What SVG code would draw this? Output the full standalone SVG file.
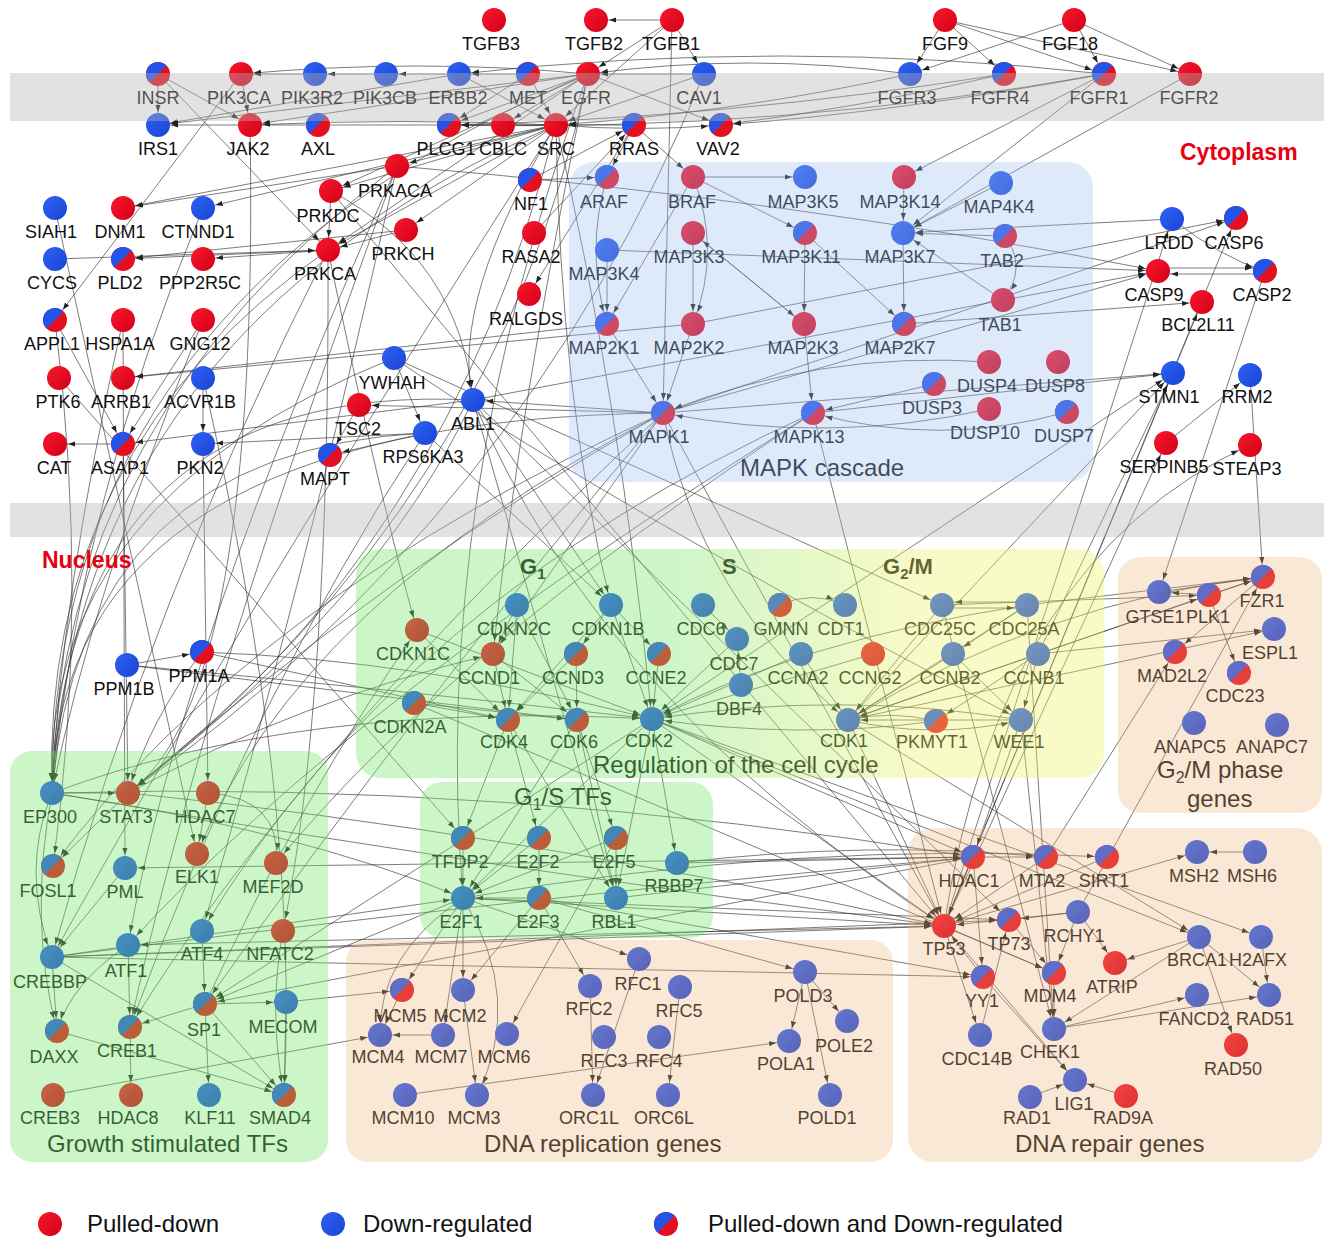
<svg xmlns="http://www.w3.org/2000/svg" xmlns:xlink="http://www.w3.org/1999/xlink" width="1324" height="1237" viewBox="0 0 1324 1237">
<style>
.e path{fill:none;stroke:#333;stroke-width:.8;stroke-opacity:.8;marker-end:url(#a)}
.n text{font-family:"Liberation Sans",Arial,sans-serif;font-size:18px;fill:#111;text-anchor:middle}
.t{font-family:"Liberation Sans",Arial,sans-serif;font-size:24px;fill:#111}
.ph{font-family:"Liberation Sans",Arial,sans-serif;font-size:22px;font-weight:bold;fill:#111}
.loc{font-family:"Liberation Sans",Arial,sans-serif;font-size:23px;font-weight:bold;fill:#e8000f}
.lg{font-family:"Liberation Sans",Arial,sans-serif;font-size:24px;fill:#111}
</style>
<defs>
<marker id="a" viewBox="0 0 22 6" refX="20" refY="3" markerWidth="22" markerHeight="6" markerUnits="userSpaceOnUse" orient="auto"><path d="M0,0.4 L7,3 L0,5.6z" fill="#222"/></marker>
<linearGradient id="gr" x1="0" y1="0" x2="1" y2="1"><stop offset="0" stop-color="#f8182c"/><stop offset="1" stop-color="#d20018"/></linearGradient>
<linearGradient id="gb" x1="0" y1="0" x2="1" y2="1"><stop offset="0" stop-color="#2d62f4"/><stop offset="1" stop-color="#1a44d4"/></linearGradient>
<linearGradient id="gcc" x1="0" y1="0" x2="1" y2="0"><stop offset="0" stop-color="#75e46a"/><stop offset="0.4" stop-color="#75e46a"/><stop offset="0.75" stop-color="#ecf26a"/><stop offset="1" stop-color="#ecf26a"/></linearGradient>
<circle id="R" r="12" fill="url(#gr)"/>
<circle id="B" r="12" fill="url(#gb)"/>
<g id="S"><circle r="12" fill="#e3101f"/><path d="M8.49 -8.49A12 12 0 0 0 -8.49 8.49Z" fill="#2453e8"/></g>
</defs>
<rect width="1324" height="1237" fill="#fff"/>
<g id="connectors" class="e">
<path d="M672 20L596 20"/><path d="M672 20L588 74"/><path d="M672 20L704 74"/><path d="M672 20L556 125"/><path d="M672 20L663 413"/>
<path d="M945 20L910 74"/><path d="M945 20L1004 74"/><path d="M945 20L1104 74"/><path d="M945 20L1190 74"/>
<path d="M1074 20L910 74"/><path d="M1074 20L1104 74"/><path d="M1074 20L1190 74"/>
<path d="M1104 74L904 177"/><path d="M1104 74L903 233"/><path d="M1190 74L903 233"/>
<path d="M910 74Q740 112 556 125"/><path d="M1004 74Q730 118 449 125"/><path d="M1104 74Q780 132 449 125"/><path d="M1104 74Q780 38 459 74"/><path d="M910 74Q750 52 588 74"/><path d="M1004 74Q860 108 721 125"/><path d="M1104 74Q900 112 721 125"/>
<path d="M158 74L158 125"/><path d="M158 74L250 125"/><path d="M158 74L328 250"/><path d="M315 74L241 74"/><path d="M386 74L315 74"/><path d="M459 74L386 74"/><path d="M528 74L459 74"/><path d="M588 74Q420 58 241 74"/>
<path d="M556 125L158 125"/><path d="M556 125Q400 118 250 125"/><path d="M588 74L250 125"/><path d="M588 74L158 125"/><path d="M459 74L158 125"/><path d="M528 74L449 125"/><path d="M588 74L449 125"/><path d="M556 125L449 125"/><path d="M588 74L503 125"/><path d="M704 74L556 125"/><path d="M704 74L588 74"/><path d="M528 74L556 125"/><path d="M634 125L556 125"/><path d="M556 125Q640 132 721 125"/><path d="M588 74L721 125"/><path d="M459 74L556 125"/><path d="M241 74L250 125"/><path d="M241 74L55 320"/>
<path d="M556 125L397 166"/><path d="M556 125L331 191"/><path d="M556 125L406 230"/><path d="M556 125L328 250"/><path d="M588 74L328 250"/><path d="M588 74L331 191"/><path d="M556 125L123 208"/><path d="M556 125L203 208"/><path d="M397 166L123 208"/><path d="M328 250L123 259"/><path d="M406 230L123 259"/><path d="M328 250L203 259"/><path d="M55 259L328 250"/><path d="M406 230L328 250"/><path d="M331 191L328 250"/>
<path d="M55 208L197 854"/><path d="M59 378L463 838"/><path d="M203 320L123 444"/><path d="M203 378L203 444"/><path d="M473 400L123 444"/><path d="M123 444L55 444"/><path d="M425 433L203 444"/><path d="M394 358L425 433"/><path d="M359 405L330 455"/><path d="M425 433L330 455"/><path d="M663 413L359 405"/>
<path d="M331 191Q460 260 473 400"/><path d="M556 125Q450 300 473 400"/><path d="M663 413L473 400"/>
<path d="M530 180L634 125"/><path d="M534 233L634 125"/><path d="M634 125L529 294"/><path d="M634 125L607 177"/><path d="M634 125L693 177"/><path d="M530 180L607 177"/><path d="M607 324L123 378"/><path d="M693 324L123 378"/><path d="M55 320L123 444"/>
<path d="M693 177L805 177"/><path d="M693 177L805 233"/><path d="M804 324L693 233"/><path d="M607 250L607 324"/><path d="M607 177Q585 250 607 324"/><path d="M693 177L607 324"/><path d="M693 233L693 324"/><path d="M693 177Q722 250 693 324"/><path d="M805 233L804 324"/><path d="M904 177L903 233"/><path d="M903 233L904 324"/><path d="M1001 183L903 233"/><path d="M1005 236L903 233"/><path d="M1172 219L903 233"/><path d="M1003 300L903 233"/><path d="M1005 236Q1028 268 1003 300"/><path d="M693 233L804 324"/><path d="M805 233L904 324"/>
<path d="M607 324L663 413"/><path d="M693 324L663 413"/><path d="M804 324L813 413"/><path d="M989 362Q820 350 663 413"/><path d="M989 409Q830 445 663 413"/><path d="M1067 412Q940 448 813 413"/><path d="M934 384L813 413"/>
<path d="M663 413L1158 271"/><path d="M473 400L1158 271"/><path d="M607 250L1158 271"/><path d="M397 166Q800 200 1158 271"/><path d="M1158 268L1265 268"/><path d="M1265 274L1158 274"/><path d="M1172 219Q1222 258 1265 271"/><path d="M663 413L1236 218"/><path d="M693 324L1236 218"/><path d="M904 324L1202 302"/>
<path d="M944 926L1202 302"/><path d="M944 926L1236 218"/><path d="M944 926L1172 219"/><path d="M1265 271L1159 592"/>
<path d="M652 719L1173 373"/><path d="M848 720L1173 373"/><path d="M663 413L1173 373"/><path d="M813 413L1173 373"/><path d="M1038 654L1173 373"/><path d="M1166 443L1250 375"/><path d="M1250 375L1263 577"/><path d="M944 926L1166 443"/><path d="M944 926Q1000 560 1250 445"/>
<path d="M663 413Q60 420 52 793"/><path d="M473 400Q70 380 52 793"/><path d="M328 250Q40 450 52 793"/><path d="M556 125Q80 330 52 793"/><path d="M397 166Q60 420 52 793"/><path d="M425 433Q80 450 52 793"/><path d="M588 74Q50 300 52 793"/><path d="M394 358Q40 500 52 793"/>
<path d="M203 208Q80 500 52 793"/><path d="M123 320Q60 600 52 793"/><path d="M203 320Q90 600 52 793"/>
<path d="M250 125Q260 700 128 793"/><path d="M556 125Q450 550 128 793"/><path d="M588 74Q500 500 128 793"/><path d="M663 413Q400 560 128 793"/><path d="M473 400Q380 600 128 793"/><path d="M704 74Q520 520 128 793"/><path d="M202 652Q150 720 128 793"/><path d="M127 665L202 652"/>
<path d="M663 413Q300 600 197 854"/><path d="M813 413Q400 600 202 931"/><path d="M397 166Q300 600 202 931"/>
<path d="M397 166Q200 700 130 1027"/><path d="M397 166Q180 650 128 945"/><path d="M425 433Q250 700 130 1027"/><path d="M663 413Q300 750 130 1027"/><path d="M813 413Q350 700 128 945"/><path d="M328 250Q150 600 52 957"/><path d="M556 125Q250 600 52 957"/><path d="M663 413Q250 600 53 866"/>
<path d="M463 898L205 1004"/><path d="M652 719L205 1004"/><path d="M973 857L205 1004"/><path d="M663 413Q420 700 205 1004"/>
<path d="M813 413Q450 650 276 863"/><path d="M328 250Q330 700 283 931"/><path d="M203 444L208 793"/><path d="M123 444L128 793"/><path d="M203 378Q300 800 284 1095"/><path d="M55 320Q90 600 53 866"/><path d="M123 320L125 868"/>
<path d="M473 400L611 605"/><path d="M473 400L1009 920"/><path d="M663 413L944 926"/><path d="M813 413L944 926"/><path d="M331 191L944 926"/><path d="M394 358L942 605"/><path d="M556 125Q560 400 611 605"/><path d="M588 74Q520 400 493 654"/><path d="M663 413L493 654"/><path d="M328 250Q380 500 417 630"/>
<path d="M588 74Q430 500 463 898"/><path d="M473 400Q600 700 944 926"/><path d="M394 358Q600 500 1021 720"/><path d="M556 125Q620 400 652 719"/><path d="M473 400L616 898"/><path d="M663 413Q700 600 848 720"/><path d="M425 433L611 605"/>
<path d="M127 665Q400 690 652 719"/><path d="M202 652Q420 660 652 719"/><path d="M202 652L508 720"/><path d="M127 665L577 720"/>
<path d="M52 793Q300 700 652 719"/><path d="M128 793Q300 700 493 654"/><path d="M205 1004Q300 800 417 630"/>
<path d="M52 793L128 793"/><path d="M128 793L53 866"/><path d="M208 793L197 854"/><path d="M208 793Q282 798 276 863"/><path d="M973 857L125 868"/><path d="M125 868L52 957"/><path d="M944 926L128 945"/>
<path d="M52 957L944 926"/><path d="M52 957L1009 920"/><path d="M52 957L983 977"/><path d="M52 957Q500 900 973 857"/><path d="M52 957L463 898"/><path d="M52 957L284 1095"/><path d="M52 957L57 1031"/><path d="M128 945Q72 982 57 1031"/><path d="M128 945L130 1027"/><path d="M130 1027L131 1095"/><path d="M57 1031L284 1095"/><path d="M205 1004L130 1027"/><path d="M205 1004L209 1095"/><path d="M205 1004L284 1095"/><path d="M283 931Q268 1010 284 1095"/><path d="M286 1002L284 1095"/><path d="M205 1004L286 1002"/><path d="M53 1095L380 1035"/>
<path d="M52 793Q20 870 52 957"/><path d="M52 793Q28 920 57 1031"/><path d="M52 793Q500 780 973 857"/><path d="M52 793Q500 870 944 926"/><path d="M52 793Q300 830 463 898"/><path d="M128 793Q500 830 944 926"/><path d="M202 931L205 1004"/><path d="M286 1002L402 990"/>
<path d="M517 605L508 720"/><path d="M517 605L577 720"/><path d="M611 605L652 719"/><path d="M611 605L508 720"/><path d="M611 605L576 654"/><path d="M517 605L493 654"/><path d="M611 605L659 654"/><path d="M493 654L508 720"/><path d="M493 654L577 720"/><path d="M576 654L577 720"/><path d="M576 654L508 720"/><path d="M659 654L652 719"/><path d="M801 654L652 719"/><path d="M801 654L848 720"/><path d="M1038 654L848 720"/><path d="M953 654L848 720"/><path d="M942 605L848 720"/><path d="M1027 605Q800 640 652 719"/><path d="M1027 605L848 720"/><path d="M1021 720L848 720"/><path d="M936 721Q890 710 848 720"/><path d="M1038 654L936 721"/><path d="M953 654L1021 720"/><path d="M1038 654L1021 720"/><path d="M848 720Q935 740 1021 720"/><path d="M1027 605L953 654"/><path d="M1027 602L942 602"/><path d="M942 608L1027 608"/><path d="M780 605Q812 590 845 605"/><path d="M741 685L737 639"/><path d="M703 605L737 639"/><path d="M737 639L652 719"/><path d="M1021 720Q840 690 652 719"/><path d="M936 721Q800 740 652 719"/><path d="M417 630L652 719"/><path d="M414 703L508 720"/><path d="M414 703L577 720"/><path d="M417 630L508 720"/><path d="M873 654L652 719"/>
<path d="M652 719L463 898"/><path d="M652 719L616 898"/><path d="M508 720L616 898"/><path d="M577 720L616 898"/><path d="M508 720L539 838"/><path d="M577 720L616 838"/><path d="M652 719L677 863"/><path d="M508 720L463 838"/><path d="M577 720L463 898"/><path d="M463 838L463 898"/><path d="M539 838L463 898"/><path d="M616 838L463 898"/><path d="M539 898L463 898"/><path d="M539 838L539 898"/><path d="M616 838L616 898"/>
<path d="M848 720Q1050 600 1263 577"/><path d="M1038 654L1263 577"/><path d="M1027 605L1263 577"/><path d="M942 605L1209 595"/><path d="M848 720L1209 595"/><path d="M1209 595L1159 592"/><path d="M1159 592L1263 577"/><path d="M1209 595L1263 577"/><path d="M1038 654L1274 629"/><path d="M848 720L1274 629"/><path d="M1078 912L1263 577"/><path d="M1046 857L1175 652"/><path d="M1263 577L1175 652"/><path d="M1209 595L1239 673"/>
<path d="M463 898L402 990"/><path d="M463 898L463 990"/><path d="M463 898Q378 955 380 1035"/><path d="M463 898L443 1035"/><path d="M616 838L507 1034"/><path d="M463 898Q525 1000 477 1095"/><path d="M539 898L463 990"/><path d="M463 898L639 959"/><path d="M639 959L593 1095"/><path d="M590 986L593 1095"/><path d="M680 987L668 1095"/><path d="M805 972L789 1041"/><path d="M805 972L847 1021"/><path d="M805 972L830 1095"/><path d="M539 898L805 972"/><path d="M402 990L380 1035"/><path d="M443 1035L380 1035"/><path d="M463 990L477 1095"/><path d="M405 1095L789 1041"/><path d="M539 898L590 986"/>
<path d="M1255 852L1197 852"/><path d="M1030 1097L1075 1080"/><path d="M1126 1096L1075 1080"/><path d="M983 977L1075 1080"/><path d="M944 926L1075 1080"/><path d="M1054 1029L1197 995"/><path d="M1054 1029L1269 995"/><path d="M1054 973L1054 1029"/><path d="M1199 937L1054 1029"/><path d="M1078 912L1054 973"/><path d="M1199 937L1115 963"/><path d="M1199 937L1236 1045"/><path d="M1199 937L1269 995"/><path d="M1261 937L1269 995"/>
<path d="M973 857L944 926"/><path d="M1107 857L944 926"/><path d="M1046 857L944 926"/><path d="M944 926L1054 973"/><path d="M983 977L944 926"/><path d="M1078 912L944 926"/><path d="M1078 912L1009 920"/><path d="M1078 912L1115 963"/><path d="M944 926L980 1035"/><path d="M980 1035L1009 920"/><path d="M973 857L983 977"/><path d="M973 857L1046 857"/><path d="M652 719L973 857"/><path d="M1021 720L973 857"/><path d="M463 898Q800 840 1107 857"/><path d="M463 898L944 926"/><path d="M463 898L1009 920"/><path d="M616 898L973 857"/><path d="M677 863L973 857"/><path d="M677 863Q870 840 1046 857"/><path d="M848 720L1199 937"/><path d="M652 719L1199 937"/><path d="M652 719L944 926"/><path d="M848 720L944 926"/><path d="M942 605L1054 1029"/><path d="M1027 605L1054 1029"/><path d="M1021 720L1054 1029"/><path d="M414 703L1054 973"/><path d="M944 926L1197 852"/><path d="M652 719L1261 937"/><path d="M1009 920L1054 973"/><path d="M539 898L983 977"/>
</g>
<g class="n">
<g id="n-TGFB3"><use href="#R" x="494" y="20"/><text x="491" y="50">TGFB3</text></g>
<g id="n-TGFB2"><use href="#R" x="596" y="20"/><text x="594" y="50">TGFB2</text></g>
<g id="n-TGFB1"><use href="#R" x="672" y="20"/><text x="671" y="50">TGFB1</text></g>
<g id="n-FGF9"><use href="#R" x="945" y="20"/><text x="945" y="50">FGF9</text></g>
<g id="n-FGF18"><use href="#R" x="1074" y="20"/><text x="1070" y="50">FGF18</text></g>
<g id="n-INSR"><use href="#S" x="158" y="74"/><text x="158" y="104">INSR</text></g>
<g id="n-PIK3CA"><use href="#R" x="241" y="74"/><text x="239" y="104">PIK3CA</text></g>
<g id="n-PIK3R2"><use href="#B" x="315" y="74"/><text x="312" y="104">PIK3R2</text></g>
<g id="n-PIK3CB"><use href="#B" x="386" y="74"/><text x="385" y="104">PIK3CB</text></g>
<g id="n-ERBB2"><use href="#B" x="459" y="74"/><text x="458" y="104">ERBB2</text></g>
<g id="n-MET"><use href="#S" x="528" y="74"/><text x="528" y="104">MET</text></g>
<g id="n-EGFR"><use href="#R" x="588" y="74"/><text x="586" y="104">EGFR</text></g>
<g id="n-CAV1"><use href="#B" x="704" y="74"/><text x="699" y="104">CAV1</text></g>
<g id="n-FGFR3"><use href="#B" x="910" y="74"/><text x="907" y="104">FGFR3</text></g>
<g id="n-FGFR4"><use href="#S" x="1004" y="74"/><text x="1000" y="104">FGFR4</text></g>
<g id="n-FGFR1"><use href="#S" x="1104" y="74"/><text x="1099" y="104">FGFR1</text></g>
<g id="n-FGFR2"><use href="#R" x="1190" y="74"/><text x="1189" y="104">FGFR2</text></g>
<g id="n-IRS1"><use href="#B" x="158" y="125"/><text x="158" y="155">IRS1</text></g>
<g id="n-JAK2"><use href="#R" x="250" y="125"/><text x="248" y="155">JAK2</text></g>
<g id="n-AXL"><use href="#S" x="318" y="125"/><text x="318" y="155">AXL</text></g>
<g id="n-PLCG1"><use href="#S" x="449" y="125"/><text x="446" y="155">PLCG1</text></g>
<g id="n-CBLC"><use href="#R" x="503" y="125"/><text x="503" y="155">CBLC</text></g>
<g id="n-SRC"><use href="#R" x="556" y="125"/><text x="556" y="155">SRC</text></g>
<g id="n-RRAS"><use href="#S" x="634" y="125"/><text x="634" y="155">RRAS</text></g>
<g id="n-VAV2"><use href="#S" x="721" y="125"/><text x="718" y="155">VAV2</text></g>
<g id="n-PRKACA"><use href="#R" x="397" y="166"/><text x="395" y="197">PRKACA</text></g>
<g id="n-PRKDC"><use href="#R" x="331" y="191"/><text x="328" y="222">PRKDC</text></g>
<g id="n-PRKCH"><use href="#R" x="406" y="230"/><text x="403" y="260">PRKCH</text></g>
<g id="n-PRKCA"><use href="#R" x="328" y="250"/><text x="325" y="280">PRKCA</text></g>
<g id="n-NF1"><use href="#S" x="530" y="180"/><text x="531" y="210">NF1</text></g>
<g id="n-RASA2"><use href="#R" x="534" y="233"/><text x="531" y="263">RASA2</text></g>
<g id="n-RALGDS"><use href="#R" x="529" y="294"/><text x="526" y="325">RALGDS</text></g>
<g id="n-SIAH1"><use href="#B" x="55" y="208"/><text x="51" y="238">SIAH1</text></g>
<g id="n-DNM1"><use href="#R" x="123" y="208"/><text x="120" y="238">DNM1</text></g>
<g id="n-CTNND1"><use href="#B" x="203" y="208"/><text x="198" y="238">CTNND1</text></g>
<g id="n-CYCS"><use href="#B" x="55" y="259"/><text x="52" y="289">CYCS</text></g>
<g id="n-PLD2"><use href="#S" x="123" y="259"/><text x="120" y="289">PLD2</text></g>
<g id="n-PPP2R5C"><use href="#R" x="203" y="259"/><text x="200" y="289">PPP2R5C</text></g>
<g id="n-APPL1"><use href="#S" x="55" y="320"/><text x="52" y="350">APPL1</text></g>
<g id="n-HSPA1A"><use href="#R" x="123" y="320"/><text x="120" y="350">HSPA1A</text></g>
<g id="n-GNG12"><use href="#R" x="203" y="320"/><text x="200" y="350">GNG12</text></g>
<g id="n-PTK6"><use href="#R" x="59" y="378"/><text x="58" y="408">PTK6</text></g>
<g id="n-ARRB1"><use href="#R" x="123" y="378"/><text x="121" y="408">ARRB1</text></g>
<g id="n-ACVR1B"><use href="#B" x="203" y="378"/><text x="200" y="408">ACVR1B</text></g>
<g id="n-CAT"><use href="#R" x="55" y="444"/><text x="54" y="474">CAT</text></g>
<g id="n-ASAP1"><use href="#S" x="123" y="444"/><text x="120" y="474">ASAP1</text></g>
<g id="n-PKN2"><use href="#B" x="203" y="444"/><text x="200" y="474">PKN2</text></g>
<g id="n-YWHAH"><use href="#B" x="394" y="358"/><text x="392" y="389">YWHAH</text></g>
<g id="n-TSC2"><use href="#R" x="359" y="405"/><text x="358" y="435">TSC2</text></g>
<g id="n-ABL1"><use href="#B" x="473" y="400"/><text x="473" y="430">ABL1</text></g>
<g id="n-RPS6KA3"><use href="#B" x="425" y="433"/><text x="423" y="463">RPS6KA3</text></g>
<g id="n-MAPT"><use href="#S" x="330" y="455"/><text x="325" y="485">MAPT</text></g>
<g id="n-ARAF"><use href="#S" x="607" y="177"/><text x="604" y="208">ARAF</text></g>
<g id="n-BRAF"><use href="#R" x="693" y="177"/><text x="692" y="208">BRAF</text></g>
<g id="n-MAP3K5"><use href="#B" x="805" y="177"/><text x="803" y="208">MAP3K5</text></g>
<g id="n-MAP3K14"><use href="#R" x="904" y="177"/><text x="900" y="208">MAP3K14</text></g>
<g id="n-MAP4K4"><use href="#B" x="1001" y="183"/><text x="999" y="213">MAP4K4</text></g>
<g id="n-MAP3K4"><use href="#B" x="607" y="250"/><text x="604" y="280">MAP3K4</text></g>
<g id="n-MAP3K3"><use href="#R" x="693" y="233"/><text x="689" y="263">MAP3K3</text></g>
<g id="n-MAP3K11"><use href="#S" x="805" y="233"/><text x="801" y="263">MAP3K11</text></g>
<g id="n-MAP3K7"><use href="#B" x="903" y="233"/><text x="900" y="263">MAP3K7</text></g>
<g id="n-TAB2"><use href="#S" x="1005" y="236"/><text x="1002" y="267">TAB2</text></g>
<g id="n-TAB1"><use href="#R" x="1003" y="300"/><text x="1000" y="331">TAB1</text></g>
<g id="n-MAP2K1"><use href="#S" x="607" y="324"/><text x="604" y="354">MAP2K1</text></g>
<g id="n-MAP2K2"><use href="#R" x="693" y="324"/><text x="689" y="354">MAP2K2</text></g>
<g id="n-MAP2K3"><use href="#R" x="804" y="324"/><text x="803" y="354">MAP2K3</text></g>
<g id="n-MAP2K7"><use href="#S" x="904" y="324"/><text x="900" y="354">MAP2K7</text></g>
<g id="n-DUSP4"><use href="#R" x="989" y="362"/><text x="987" y="392">DUSP4</text></g>
<g id="n-DUSP8"><use href="#R" x="1058" y="362"/><text x="1055" y="392">DUSP8</text></g>
<g id="n-DUSP3"><use href="#S" x="934" y="384"/><text x="932" y="414">DUSP3</text></g>
<g id="n-DUSP10"><use href="#R" x="989" y="409"/><text x="985" y="439">DUSP10</text></g>
<g id="n-DUSP7"><use href="#S" x="1067" y="412"/><text x="1064" y="442">DUSP7</text></g>
<g id="n-MAPK1"><use href="#S" x="663" y="413"/><text x="659" y="443">MAPK1</text></g>
<g id="n-MAPK13"><use href="#S" x="813" y="413"/><text x="809" y="443">MAPK13</text></g>
<g id="n-LRDD"><use href="#B" x="1172" y="219"/><text x="1169" y="249">LRDD</text></g>
<g id="n-CASP6"><use href="#S" x="1236" y="218"/><text x="1234" y="249">CASP6</text></g>
<g id="n-CASP9"><use href="#R" x="1158" y="271"/><text x="1154" y="301">CASP9</text></g>
<g id="n-CASP2"><use href="#S" x="1265" y="271"/><text x="1262" y="301">CASP2</text></g>
<g id="n-BCL2L11"><use href="#R" x="1202" y="302"/><text x="1198" y="331">BCL2L11</text></g>
<g id="n-STMN1"><use href="#B" x="1173" y="373"/><text x="1169" y="403">STMN1</text></g>
<g id="n-RRM2"><use href="#B" x="1250" y="375"/><text x="1247" y="403">RRM2</text></g>
<g id="n-SERPINB5"><use href="#R" x="1166" y="443"/><text x="1164" y="473">SERPINB5</text></g>
<g id="n-STEAP3"><use href="#R" x="1250" y="445"/><text x="1247" y="475">STEAP3</text></g>
<g id="n-PPM1A"><use href="#S" x="202" y="652"/><text x="199" y="682">PPM1A</text></g>
<g id="n-PPM1B"><use href="#B" x="127" y="665"/><text x="124" y="695">PPM1B</text></g>
<g id="n-CDKN1C"><use href="#R" x="417" y="630"/><text x="413" y="660">CDKN1C</text></g>
<g id="n-CDKN2A"><use href="#S" x="414" y="703"/><text x="410" y="733">CDKN2A</text></g>
<g id="n-CDKN2C"><use href="#B" x="517" y="605"/><text x="514" y="635">CDKN2C</text></g>
<g id="n-CDKN1B"><use href="#B" x="611" y="605"/><text x="608" y="635">CDKN1B</text></g>
<g id="n-CDC6"><use href="#B" x="703" y="605"/><text x="701" y="635">CDC6</text></g>
<g id="n-GMNN"><use href="#S" x="780" y="605"/><text x="781" y="635">GMNN</text></g>
<g id="n-CDT1"><use href="#B" x="845" y="605"/><text x="841" y="635">CDT1</text></g>
<g id="n-CDC25C"><use href="#B" x="942" y="605"/><text x="940" y="635">CDC25C</text></g>
<g id="n-CDC25A"><use href="#B" x="1027" y="605"/><text x="1024" y="635">CDC25A</text></g>
<g id="n-CCND1"><use href="#R" x="493" y="654"/><text x="489" y="684">CCND1</text></g>
<g id="n-CCND3"><use href="#S" x="576" y="654"/><text x="573" y="684">CCND3</text></g>
<g id="n-CCNE2"><use href="#S" x="659" y="654"/><text x="656" y="684">CCNE2</text></g>
<g id="n-CDC7"><use href="#B" x="737" y="639"/><text x="734" y="670">CDC7</text></g>
<g id="n-CCNA2"><use href="#B" x="801" y="654"/><text x="798" y="684">CCNA2</text></g>
<g id="n-CCNG2"><use href="#R" x="873" y="654"/><text x="870" y="684">CCNG2</text></g>
<g id="n-DBF4"><use href="#B" x="741" y="685"/><text x="739" y="715">DBF4</text></g>
<g id="n-CCNB2"><use href="#B" x="953" y="654"/><text x="950" y="684">CCNB2</text></g>
<g id="n-CCNB1"><use href="#B" x="1038" y="654"/><text x="1034" y="684">CCNB1</text></g>
<g id="n-CDK4"><use href="#S" x="508" y="720"/><text x="504" y="748">CDK4</text></g>
<g id="n-CDK6"><use href="#S" x="577" y="720"/><text x="574" y="748">CDK6</text></g>
<g id="n-CDK2"><use href="#B" x="652" y="719"/><text x="649" y="747">CDK2</text></g>
<g id="n-CDK1"><use href="#B" x="848" y="720"/><text x="844" y="747">CDK1</text></g>
<g id="n-PKMYT1"><use href="#S" x="936" y="721"/><text x="932" y="748">PKMYT1</text></g>
<g id="n-WEE1"><use href="#B" x="1021" y="720"/><text x="1019" y="748">WEE1</text></g>
<g id="n-TFDP2"><use href="#S" x="463" y="838"/><text x="460" y="868">TFDP2</text></g>
<g id="n-E2F2"><use href="#S" x="539" y="838"/><text x="538" y="868">E2F2</text></g>
<g id="n-E2F5"><use href="#S" x="616" y="838"/><text x="614" y="868">E2F5</text></g>
<g id="n-RBBP7"><use href="#B" x="677" y="863"/><text x="674" y="892">RBBP7</text></g>
<g id="n-E2F1"><use href="#B" x="463" y="898"/><text x="461" y="928">E2F1</text></g>
<g id="n-E2F3"><use href="#S" x="539" y="898"/><text x="538" y="928">E2F3</text></g>
<g id="n-RBL1"><use href="#B" x="616" y="898"/><text x="614" y="928">RBL1</text></g>
<g id="n-EP300"><use href="#B" x="52" y="793"/><text x="50" y="823">EP300</text></g>
<g id="n-STAT3"><use href="#R" x="128" y="793"/><text x="126" y="823">STAT3</text></g>
<g id="n-HDAC7"><use href="#R" x="208" y="793"/><text x="205" y="823">HDAC7</text></g>
<g id="n-FOSL1"><use href="#S" x="53" y="866"/><text x="48" y="897">FOSL1</text></g>
<g id="n-PML"><use href="#B" x="125" y="868"/><text x="125" y="898">PML</text></g>
<g id="n-ELK1"><use href="#R" x="197" y="854"/><text x="197" y="883">ELK1</text></g>
<g id="n-MEF2D"><use href="#R" x="276" y="863"/><text x="273" y="893">MEF2D</text></g>
<g id="n-ATF4"><use href="#B" x="202" y="931"/><text x="202" y="960">ATF4</text></g>
<g id="n-NFATC2"><use href="#R" x="283" y="931"/><text x="280" y="960">NFATC2</text></g>
<g id="n-CREBBP"><use href="#B" x="52" y="957"/><text x="50" y="988">CREBBP</text></g>
<g id="n-ATF1"><use href="#B" x="128" y="945"/><text x="126" y="977">ATF1</text></g>
<g id="n-SP1"><use href="#S" x="205" y="1004"/><text x="204" y="1036">SP1</text></g>
<g id="n-MECOM"><use href="#B" x="286" y="1002"/><text x="283" y="1033">MECOM</text></g>
<g id="n-DAXX"><use href="#S" x="57" y="1031"/><text x="54" y="1063">DAXX</text></g>
<g id="n-CREB1"><use href="#S" x="130" y="1027"/><text x="127" y="1057">CREB1</text></g>
<g id="n-CREB3"><use href="#R" x="53" y="1095"/><text x="50" y="1124">CREB3</text></g>
<g id="n-HDAC8"><use href="#R" x="131" y="1095"/><text x="128" y="1124">HDAC8</text></g>
<g id="n-KLF11"><use href="#B" x="209" y="1095"/><text x="210" y="1124">KLF11</text></g>
<g id="n-SMAD4"><use href="#S" x="284" y="1095"/><text x="280" y="1124">SMAD4</text></g>
<g id="n-MCM5"><use href="#S" x="402" y="990"/><text x="400" y="1022">MCM5</text></g>
<g id="n-MCM2"><use href="#B" x="463" y="990"/><text x="460" y="1022">MCM2</text></g>
<g id="n-MCM4"><use href="#B" x="380" y="1035"/><text x="378" y="1063">MCM4</text></g>
<g id="n-MCM7"><use href="#B" x="443" y="1035"/><text x="441" y="1063">MCM7</text></g>
<g id="n-MCM6"><use href="#B" x="507" y="1034"/><text x="504" y="1063">MCM6</text></g>
<g id="n-MCM10"><use href="#B" x="405" y="1095"/><text x="403" y="1124">MCM10</text></g>
<g id="n-MCM3"><use href="#B" x="477" y="1095"/><text x="474" y="1124">MCM3</text></g>
<g id="n-RFC1"><use href="#B" x="639" y="959"/><text x="638" y="990">RFC1</text></g>
<g id="n-RFC2"><use href="#B" x="590" y="986"/><text x="589" y="1015">RFC2</text></g>
<g id="n-RFC5"><use href="#B" x="680" y="987"/><text x="679" y="1017">RFC5</text></g>
<g id="n-RFC3"><use href="#B" x="604" y="1037"/><text x="604" y="1067">RFC3</text></g>
<g id="n-RFC4"><use href="#B" x="659" y="1037"/><text x="659" y="1067">RFC4</text></g>
<g id="n-ORC1L"><use href="#B" x="593" y="1095"/><text x="589" y="1124">ORC1L</text></g>
<g id="n-ORC6L"><use href="#B" x="668" y="1095"/><text x="664" y="1124">ORC6L</text></g>
<g id="n-POLD3"><use href="#B" x="805" y="972"/><text x="803" y="1002">POLD3</text></g>
<g id="n-POLE2"><use href="#B" x="847" y="1021"/><text x="844" y="1052">POLE2</text></g>
<g id="n-POLA1"><use href="#B" x="789" y="1041"/><text x="786" y="1070">POLA1</text></g>
<g id="n-POLD1"><use href="#B" x="830" y="1095"/><text x="827" y="1124">POLD1</text></g>
<g id="n-HDAC1"><use href="#S" x="973" y="857"/><text x="969" y="887">HDAC1</text></g>
<g id="n-MTA2"><use href="#S" x="1046" y="857"/><text x="1042" y="887">MTA2</text></g>
<g id="n-SIRT1"><use href="#S" x="1107" y="857"/><text x="1104" y="887">SIRT1</text></g>
<g id="n-MSH2"><use href="#B" x="1197" y="852"/><text x="1194" y="882">MSH2</text></g>
<g id="n-MSH6"><use href="#B" x="1255" y="852"/><text x="1252" y="882">MSH6</text></g>
<g id="n-TP53"><use href="#R" x="944" y="926"/><text x="944" y="955">TP53</text></g>
<g id="n-TP73"><use href="#S" x="1009" y="920"/><text x="1009" y="950">TP73</text></g>
<g id="n-RCHY1"><use href="#B" x="1078" y="912"/><text x="1074" y="942">RCHY1</text></g>
<g id="n-BRCA1"><use href="#B" x="1199" y="937"/><text x="1197" y="966">BRCA1</text></g>
<g id="n-H2AFX"><use href="#B" x="1261" y="937"/><text x="1258" y="966">H2AFX</text></g>
<g id="n-YY1"><use href="#S" x="983" y="977"/><text x="982" y="1007">YY1</text></g>
<g id="n-MDM4"><use href="#S" x="1054" y="973"/><text x="1050" y="1002">MDM4</text></g>
<g id="n-ATRIP"><use href="#R" x="1115" y="963"/><text x="1112" y="993">ATRIP</text></g>
<g id="n-FANCD2"><use href="#B" x="1197" y="995"/><text x="1194" y="1025">FANCD2</text></g>
<g id="n-RAD51"><use href="#B" x="1269" y="995"/><text x="1265" y="1025">RAD51</text></g>
<g id="n-CDC14B"><use href="#B" x="980" y="1035"/><text x="977" y="1065">CDC14B</text></g>
<g id="n-CHEK1"><use href="#B" x="1054" y="1029"/><text x="1050" y="1058">CHEK1</text></g>
<g id="n-RAD50"><use href="#R" x="1236" y="1045"/><text x="1233" y="1075">RAD50</text></g>
<g id="n-LIG1"><use href="#B" x="1075" y="1080"/><text x="1074" y="1110">LIG1</text></g>
<g id="n-RAD1"><use href="#B" x="1030" y="1097"/><text x="1027" y="1124">RAD1</text></g>
<g id="n-RAD9A"><use href="#R" x="1126" y="1096"/><text x="1123" y="1124">RAD9A</text></g>
<g id="n-FZR1"><use href="#S" x="1263" y="577"/><text x="1262" y="607">FZR1</text></g>
<g id="n-GTSE1"><use href="#B" x="1159" y="592"/><text x="1155" y="623">GTSE1</text></g>
<g id="n-PLK1"><use href="#S" x="1209" y="595"/><text x="1208" y="623">PLK1</text></g>
<g id="n-ESPL1"><use href="#B" x="1274" y="629"/><text x="1270" y="659">ESPL1</text></g>
<g id="n-MAD2L2"><use href="#S" x="1175" y="652"/><text x="1172" y="682">MAD2L2</text></g>
<g id="n-CDC23"><use href="#S" x="1239" y="673"/><text x="1235" y="702">CDC23</text></g>
<g id="n-ANAPC5"><use href="#B" x="1194" y="723"/><text x="1190" y="753">ANAPC5</text></g>
<g id="n-ANAPC7"><use href="#B" x="1277" y="725"/><text x="1272" y="753">ANAPC7</text></g>
</g>
<g id="region-titles">
<text class="t" x="740" y="476">MAPK cascade</text>
<text class="t" x="593" y="773">Regulation of the cell cycle</text>
<text class="t" x="514" y="805">G<tspan font-size="16" dy="5">1</tspan><tspan dy="-5">/S TFs</tspan></text>
<text class="t" x="47" y="1152">Growth stimulated TFs</text>
<text class="t" x="484" y="1152">DNA replication genes</text>
<text class="t" x="1015" y="1152">DNA repair genes</text>
<text class="t" x="1157" y="778">G<tspan font-size="16" dy="5">2</tspan><tspan dy="-5">/M phase</tspan></text>
<text class="t" x="1187" y="807">genes</text>
<text class="ph" x="520" y="574">G<tspan font-size="15" dy="5">1</tspan></text>
<text class="ph" x="722" y="574">S</text>
<text class="ph" x="883" y="574">G<tspan font-size="15" dy="5">2</tspan><tspan dy="-5">/M</tspan></text>
</g>
<g id="regions">
<rect x="10" y="73" width="1314" height="48" fill="#b4b4b4" fill-opacity=".39"/>
<rect x="10" y="503" width="1314" height="34" fill="#b4b4b4" fill-opacity=".39"/>
<rect x="569" y="162" width="524" height="320" rx="25" fill="#9bbff0" fill-opacity=".33"/>
<rect x="356" y="549" width="748" height="229" rx="25" fill="url(#gcc)" fill-opacity=".37"/>
<rect x="420" y="782" width="293" height="156" rx="22" fill="#75e46a" fill-opacity=".37"/>
<rect x="10" y="751" width="318" height="411" rx="22" fill="#75e46a" fill-opacity=".37"/>
<rect x="346" y="940" width="547" height="222" rx="22" fill="#eeb075" fill-opacity=".29"/>
<rect x="908" y="828" width="414" height="334" rx="25" fill="#eeb075" fill-opacity=".29"/>
<rect x="1118" y="557" width="204" height="256" rx="22" fill="#eeb075" fill-opacity=".29"/>
</g>
<text class="loc" x="1180" y="160">Cytoplasm</text>
<text class="loc" x="42" y="568">Nucleus</text>
<g id="legend">
<use href="#R" x="50" y="1224"/><text class="lg" x="87" y="1232">Pulled-down</text>
<use href="#B" x="333" y="1224"/><text class="lg" x="363" y="1232">Down-regulated</text>
<use href="#S" x="666" y="1224"/><text class="lg" x="708" y="1232">Pulled-down and Down-regulated</text>
</g>
</svg>
